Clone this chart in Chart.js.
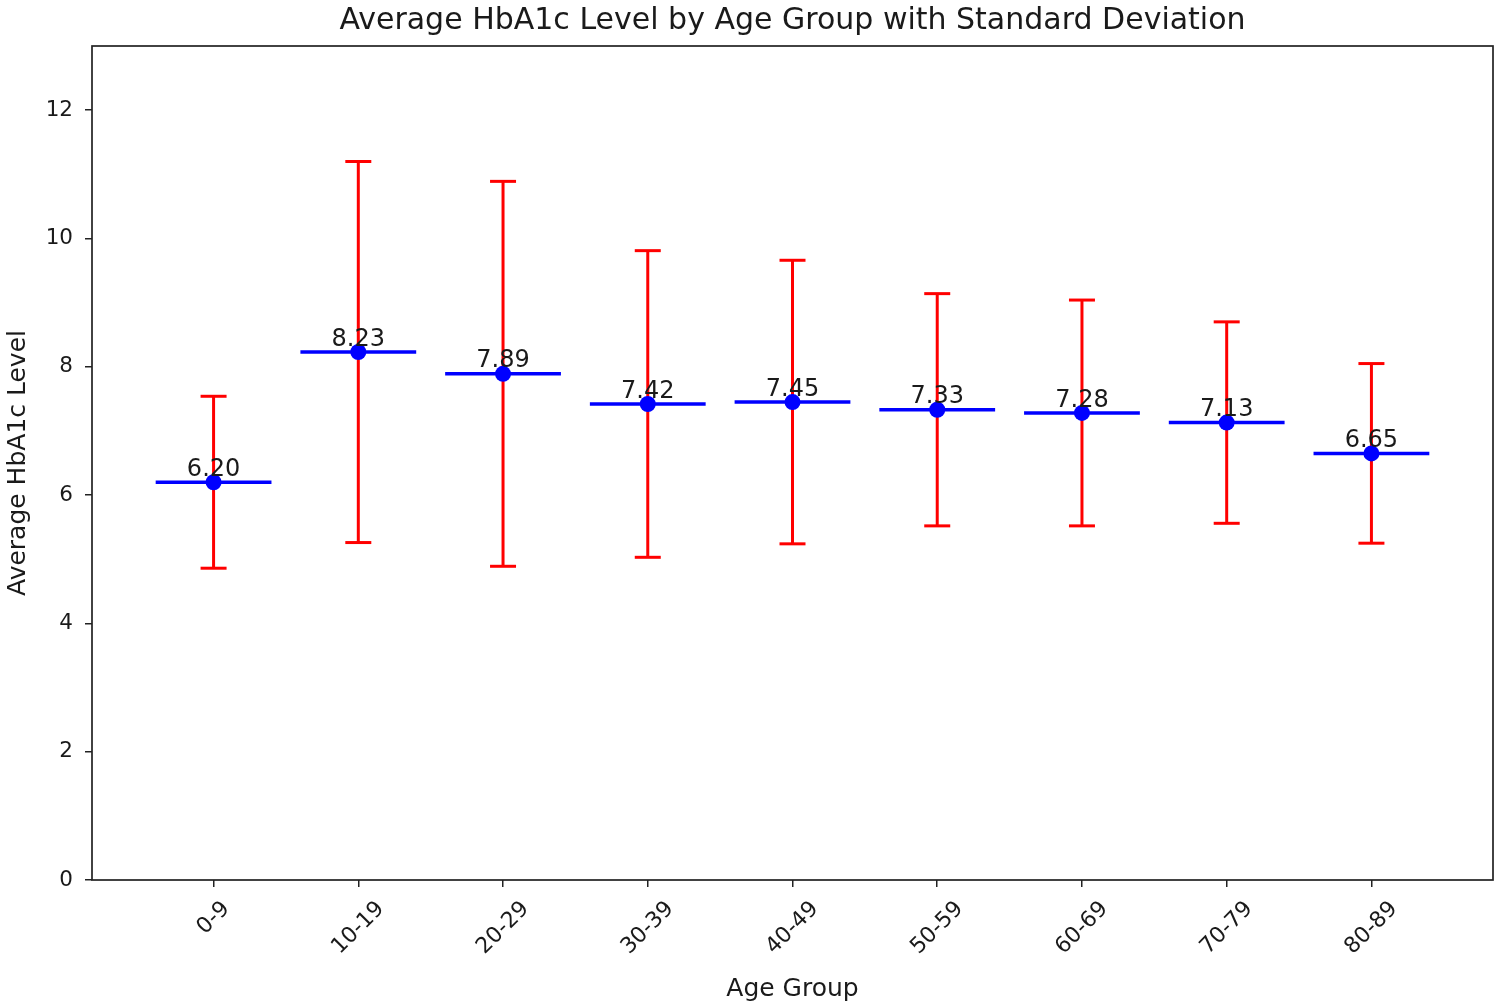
<!DOCTYPE html>
<html>
<head>
<meta charset="utf-8">
<script src="https://cdn.jsdelivr.net/npm/chart.js@4.4.1/dist/chart.umd.min.js"></script>
<style>
html,body{margin:0;padding:0;background:#ffffff;}
canvas{display:block;}
</style>
</head>
<body>
<canvas id="c" width="1501" height="1007"></canvas>
<script>
// ---- data ----
const ageGroups = ['0-9','10-19','20-29','30-39','40-49','50-59','60-69','70-79','80-89'];
const meanHbA1c = [6.20, 8.23, 7.89, 7.42, 7.45, 7.33, 7.28, 7.13, 6.65];
const stdHbA1c  = [1.34, 2.97, 3.00, 2.39, 2.21, 1.81, 1.76, 1.57, 1.40];
const yTickValues = [0, 2, 4, 6, 8, 10, 12];

// ---- styles ----
const FONT = '"DejaVu Sans", "Liberation Sans", sans-serif';
const TEXT = '#1a1a1a';
const HALF_LINE = 0.4;   // half width of the mean line in category units

// error bars (red, with caps)
const errorSets = meanHbA1c.map((m, i) => ({
  type: 'scatter',
  showLine: true,
  data: [{x: i, y: m - stdHbA1c[i]}, {x: i, y: m + stdHbA1c[i]}],
  borderColor: '#ff0000',
  borderWidth: 3,
  pointStyle: 'line',
  pointRadius: 13,
  pointBorderColor: '#ff0000',
  pointBorderWidth: 3,
  pointHoverRadius: 13,
  order: 2
}));

// mean lines (blue)
const meanLineSets = meanHbA1c.map((m, i) => ({
  type: 'scatter',
  showLine: true,
  data: [{x: i - HALF_LINE, y: m}, {x: i + HALF_LINE, y: m}],
  borderColor: '#0000ff',
  borderWidth: 3.5,
  pointRadius: 0,
  pointHoverRadius: 0,
  order: 1
}));

// mean dots
const dotSet = {
  type: 'scatter',
  data: meanHbA1c.map((m, i) => ({x: i, y: m})),
  backgroundColor: '#0000ff',
  borderWidth: 0,
  pointRadius: 8,
  pointHoverRadius: 8,
  order: 0
};

const overlayPlugin = {
  id: 'overlay',
  afterDatasetsDraw(chart) {
    const ctx = chart.ctx, xs = chart.scales.x, ys = chart.scales.y;
    ctx.save();
    ctx.font = '24px ' + FONT;
    ctx.fillStyle = TEXT;
    ctx.textAlign = 'center';
    ctx.textBaseline = 'alphabetic';
    meanHbA1c.forEach((m, i) => {
      ctx.fillText(m.toFixed(2), xs.getPixelForValue(i), ys.getPixelForValue(m + 0.1));
    });
    ctx.restore();
  },
  afterDraw(chart) {
    const ctx = chart.ctx, xs = chart.scales.x, a = chart.chartArea;
    ctx.save();
    // frame
    ctx.strokeStyle = '#222';
    ctx.lineWidth = 1.7;
    ctx.strokeRect(a.left, a.top, a.right - a.left, a.bottom - a.top);
    // rotated x tick labels, centred under their ticks
    const fs = 22;
    ctx.font = fs + 'px ' + FONT;
    ctx.fillStyle = TEXT;
    ctx.textAlign = 'center';
    ctx.textBaseline = 'middle';
    const h = fs * 0.97;
    ageGroups.forEach((lab, i) => {
      const px = xs.getPixelForValue(i);
      const w = ctx.measureText(lab).width;
      const box = (w + h) * Math.SQRT1_2;
      const cy = a.bottom + 18 + box / 2;
      ctx.save();
      ctx.translate(px, cy);
      ctx.rotate(-Math.PI / 4);
      ctx.fillText(lab, 0, 0);
      ctx.restore();
    });
    ctx.restore();
  }
};

new Chart(document.getElementById('c'), {
  type: 'scatter',
  data: { datasets: [dotSet, ...meanLineSets, ...errorSets] },
  options: {
    responsive: false,
    animation: false,
    devicePixelRatio: 1,
    events: [],
    layout: { autoPadding: false, padding: { left: 0, right: 8, top: 0, bottom: 0 } },
    plugins: {
      legend: { display: false },
      tooltip: { enabled: false },
      title: {
        display: true,
        fullSize: false,
        text: 'Average HbA1c Level by Age Group with Standard Deviation',
        color: TEXT,
        font: { family: FONT, size: 30, weight: 'normal' },
        padding: { top: 3, bottom: 7 }
      }
    },
    scales: {
      x: {
        type: 'linear',
        min: -0.84,
        max: 8.84,
        afterBuildTicks: s => { s.ticks = ageGroups.map((_, i) => ({ value: i })); },
        afterFit: s => { s.height = 127; },
        ticks: { display: false },
        grid: { display: true, drawOnChartArea: false, drawTicks: true, tickLength: 7, color: '#222', lineWidth: 1.5 },
        border: { display: false },
        title: {
          display: true,
          text: 'Age Group',
          color: TEXT,
          font: { family: FONT, size: 25, weight: 'normal' },
          padding: { top: 0, bottom: 2.5 }
        }
      },
      y: {
        type: 'linear',
        min: 0,
        max: 13,
        afterBuildTicks: s => { s.ticks = yTickValues.map(v => ({ value: v })); },
        afterFit: s => { s.width = 92; },
        ticks: { color: TEXT, font: { family: FONT, size: 21.5 }, padding: 12 },
        grid: { display: true, drawOnChartArea: false, drawTicks: true, tickLength: 7, color: '#222', lineWidth: 1.5 },
        border: { display: false },
        title: {
          display: true,
          text: 'Average HbA1c Level',
          color: TEXT,
          font: { family: FONT, size: 25, weight: 'normal' },
          padding: { top: 3, bottom: 0 }
        }
      }
    }
  },
  plugins: [overlayPlugin]
});
</script>
</body>
</html>
